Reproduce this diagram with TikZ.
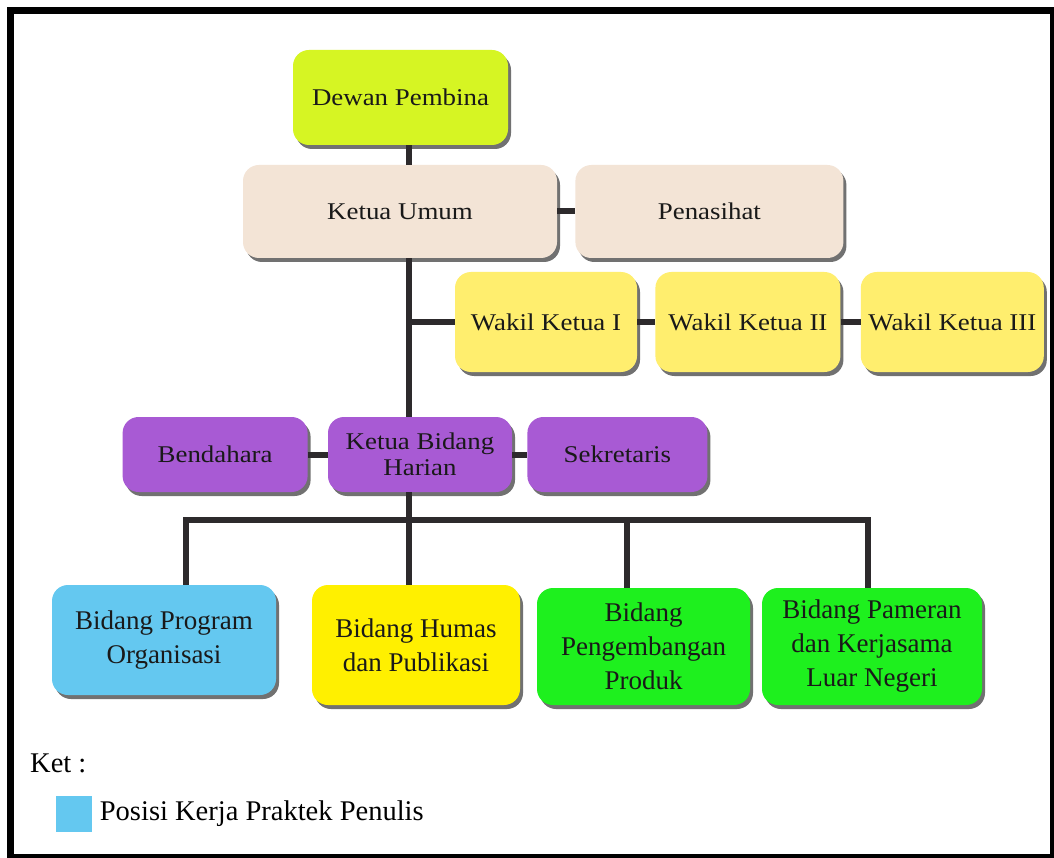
\documentclass[tikz,border=0pt]{standalone}
\usepackage{fontspec}
\setmainfont{Liberation Serif}
\newfontfamily\boxfont{Liberation Serif}[FakeStretch=1.12]
\usepackage{tikz}
\usetikzlibrary{positioning,shadows}
\usepackage{xcolor}
\definecolor{linkgray}{RGB}{45,42,44}
\definecolor{limefill}{RGB}{214,245,35}
\definecolor{beigefill}{RGB}{243,228,214}
\definecolor{wakilfill}{RGB}{255,238,110}
\definecolor{purplefill}{RGB}{168,90,212}
\definecolor{bluefill}{RGB}{100,200,240}
\definecolor{humasfill}{RGB}{255,240,0}
\definecolor{greenfill}{RGB}{30,240,30}

\begin{document}
\begin{tikzpicture}[
    x=1pt, y=-1pt,
    node distance=18pt,
    unit/.style={rounded corners=16pt, align=center, inner sep=2pt, text=black!90,
      drop shadow={shadow xshift=3pt, shadow yshift=-4pt, opacity=.65, fill=black!85}},
    topbox/.style={unit, font=\boxfont\fontsize{24}{26}\selectfont},
    fieldbox/.style={unit, font=\fontsize{27}{34}\selectfont},
    link/.style={line width=6pt, draw=linkgray}
  ]
    \useasboundingbox (0,0) rectangle (1054,858);
    \fill[white] (0,0) rectangle (1054,858);
    \draw[line width=7pt] (10.5,10.5) rectangle (1053.5,857.5);

    % pimpinan
    \node[topbox, fill=limefill, minimum width=215pt, minimum height=95pt] (dewan) at (400.5,97.5) {Dewan Pembina};
    \node[topbox, fill=beigefill, minimum width=314pt, minimum height=93pt] (ketua) at (400,211.5) {Ketua Umum};
    \node[topbox, fill=beigefill, minimum width=268pt, minimum height=93pt, right=of ketua] (penasihat) {Penasihat};

    \node[topbox, fill=wakilfill, minimum width=182pt, minimum height=100pt] (wakil1) at (546,322) {Wakil Ketua I};
    \node[topbox, fill=wakilfill, minimum width=185pt, minimum height=100pt, right=of wakil1] (wakil2) {Wakil Ketua II};
    \node[topbox, fill=wakilfill, minimum width=183pt, minimum height=100pt, right=20pt of wakil2] (wakil3) {Wakil Ketua III};

    \node[topbox, fill=purplefill, minimum width=184pt, minimum height=75pt] (harian) at (420,454.5) {Ketua Bidang\\Harian};
    \node[topbox, fill=purplefill, minimum width=185pt, minimum height=75pt, left=20pt of harian] (bendahara) {Bendahara};
    \node[topbox, fill=purplefill, minimum width=180pt, minimum height=75pt, right=15pt of harian] (sekretaris) {Sekretaris};

    % bidang
    \node[fieldbox, fill=bluefill, minimum width=224pt, minimum height=110pt] (program) at (164,640) {Bidang Program\\Organisasi};
    \node[fieldbox, fill=humasfill, minimum width=208pt, minimum height=120pt] (humas) at (416,645) {Bidang Humas\\dan Publikasi};
    \node[fieldbox, fill=greenfill, minimum width=213pt, minimum height=117pt] (produk) at (643.5,646.5) {Bidang\\Pengembangan\\Produk};
    \node[fieldbox, fill=greenfill, minimum width=220pt, minimum height=117pt] (pameran) at (872,646.5) {Bidang Pameran\\dan Kerjasama\\Luar Negeri};

    \coordinate (spine) at (409,0);
    \coordinate (bus1) at (186,520);
    \coordinate (bus2) at (409,520);
    \coordinate (bus3) at (627,520);
    \coordinate (bus4) at (868,520);

    \draw[link] (dewan.south -| spine) -- (ketua.north -| spine);
    \draw[link] (ketua.east) -- (penasihat.west);
    \draw[link] (ketua.south -| spine) -- (harian.north -| spine);
    \draw[link] (wakil1.west -| spine) -- (wakil1.west);
    \draw[link] (wakil1.east) -- (wakil2.west);
    \draw[link] (wakil2.east) -- (wakil3.west);
    \draw[link] (bendahara.east) -- (harian.west);
    \draw[link] (harian.east) -- (sekretaris.west);
    \draw[link] (harian.south -| spine) -- (bus2);
    \draw[link, line cap=rect] (bus1) -- (bus4);
    \draw[link] (bus1) -- (bus1 |- program.north);
    \draw[link] (bus2) -- (bus2 |- humas.north);
    \draw[link] (bus3) -- (bus3 |- produk.north);
    \draw[link] (bus4) -- (bus4 |- pameran.north);

    % keterangan
    \node[anchor=west, font=\fontsize{28.5}{32}\selectfont, inner sep=0pt] (ket) at (30,763) {Ket :};
    \node[fill=bluefill, minimum size=36pt, inner sep=0pt] (legbox) at (73.5,814) {};
    \node[anchor=west, font=\fontsize{28.5}{32}\selectfont, inner sep=0pt, right=8pt of legbox] (legtext) {Posisi Kerja Praktek Penulis};
\end{tikzpicture}
\end{document}
